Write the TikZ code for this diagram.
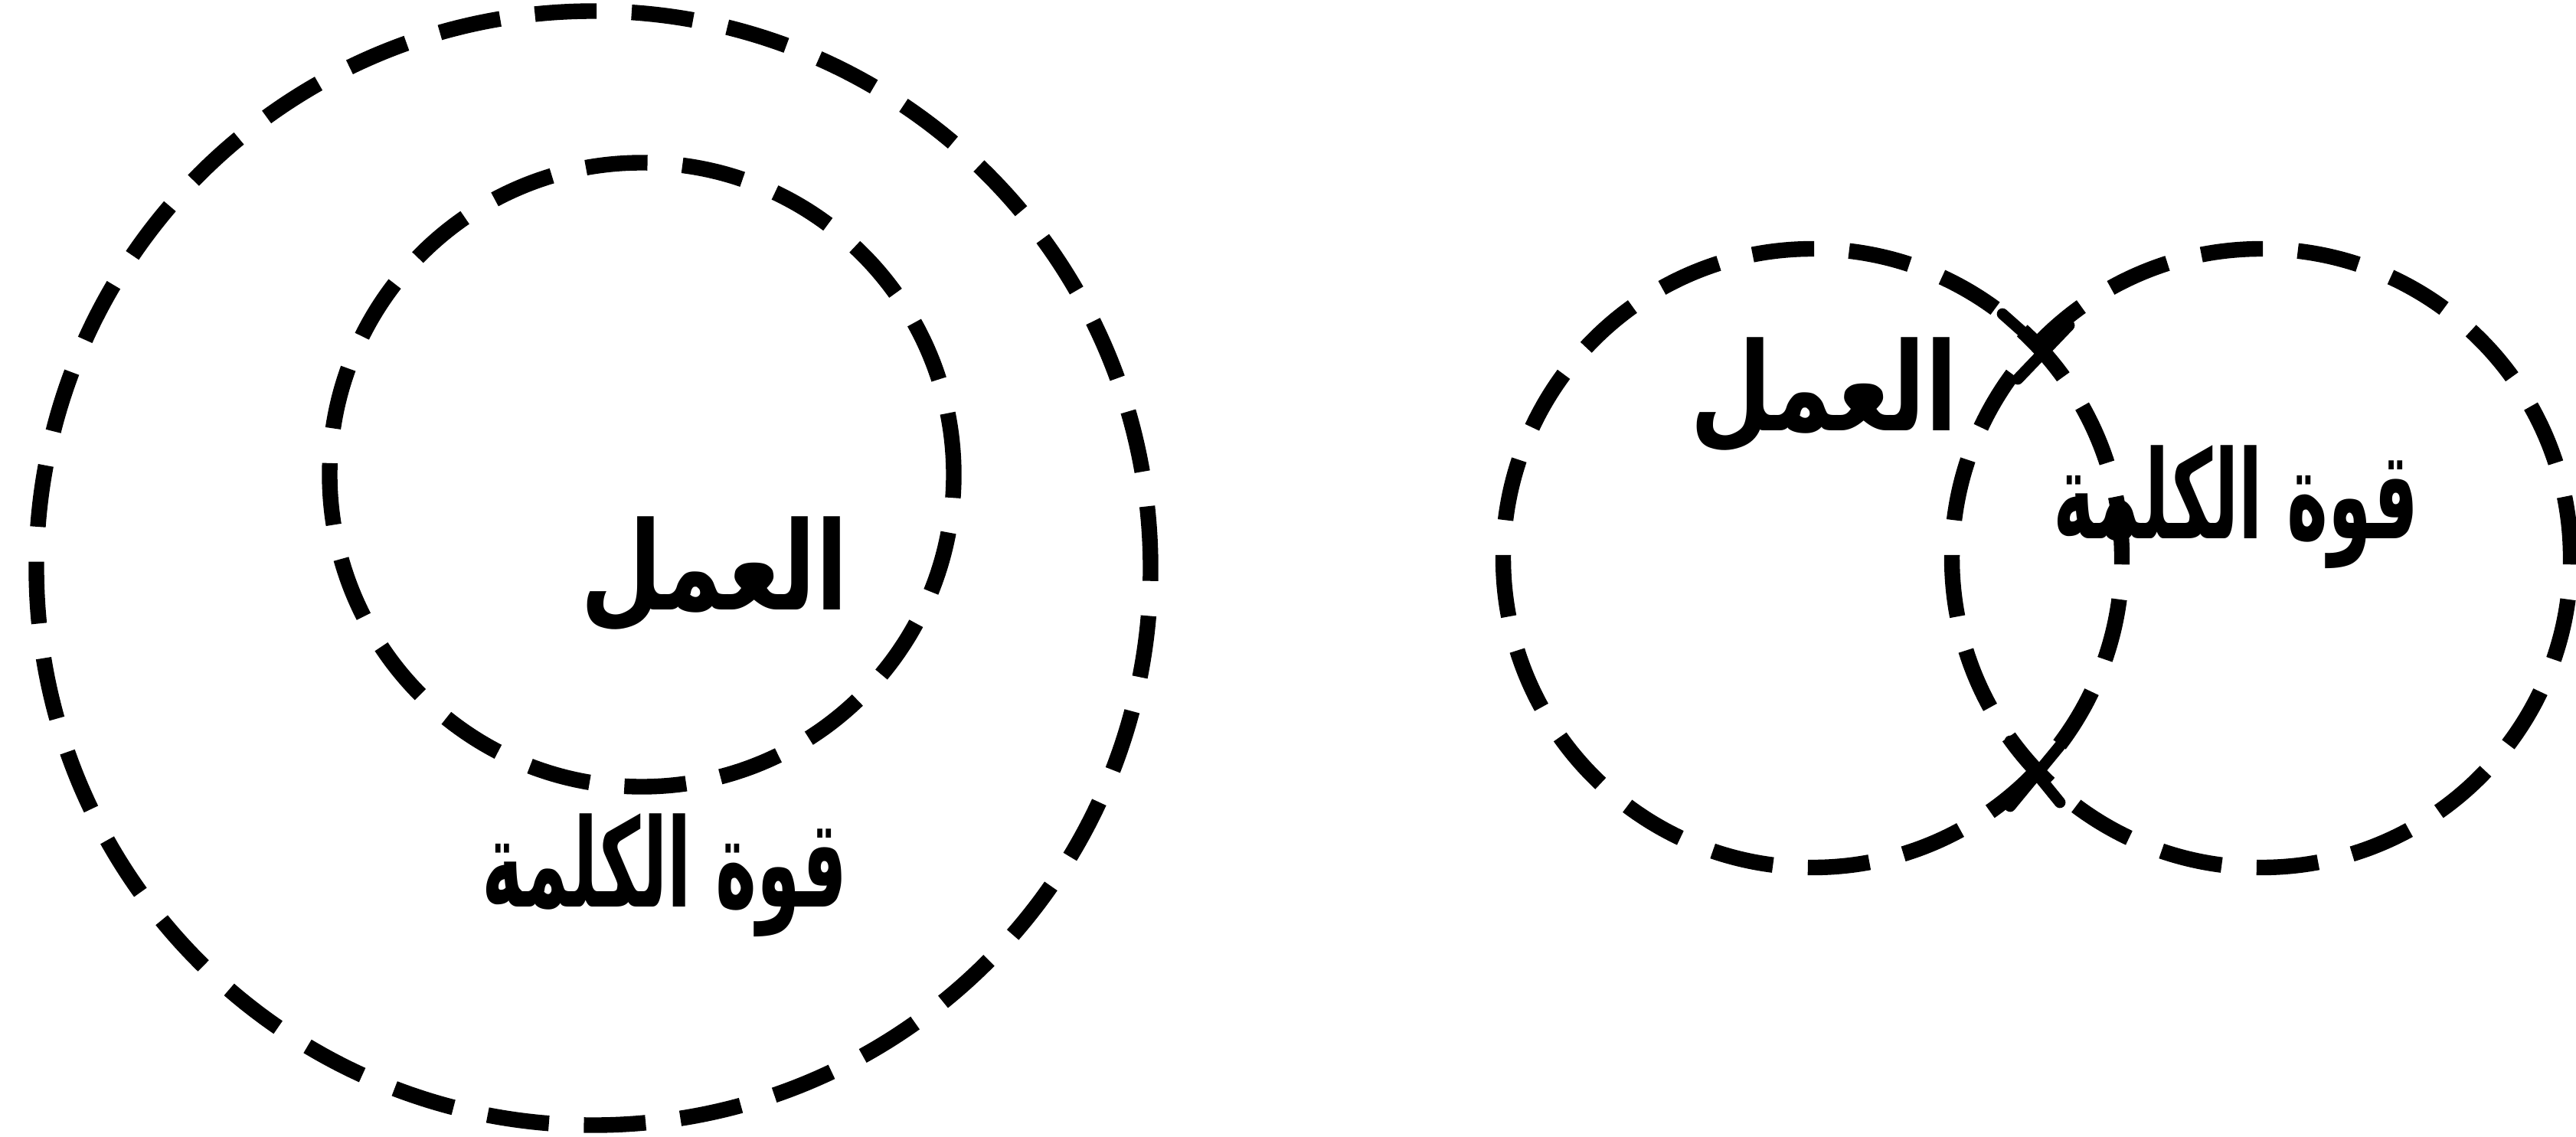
\documentclass[tikz,border=0pt]{standalone}
\usepackage{graphicx}
\usepackage{fontspec}
\newfontfamily\arabicfont[Script=Arabic]{DejaVu Sans}
\TeXXeTstate=1
% Arabic label, squeezed to the width of the drawn one
\newcommand{\artext}[2][1]{\scalebox{#1}[1.2]{\beginR #2\endR}}

\begin{document}
\begin{tikzpicture}[
  ring/.style={circle, draw, line width=5.8pt, dash pattern=on 23pt off 13pt, inner sep=0pt, minimum size=#1},
  lbl/.style={font=\arabicfont\bfseries\fontsize{38}{44}\selectfont, inner sep=0pt},
  crossmark/.style={line width=4.2pt, line cap=round}
]
\useasboundingbox (0,0) rectangle (33.64,-14.84);

% nested circles (left)
\node[ring=14.55cm] (outer) at (7.75,-7.42) {};
\node[ring=8.15cm] (inner) at (8.38,-6.20) {};
\node[lbl] (work) at (9.33,-7.50) {\artext[0.92]{العمل}};
\node[lbl] (power) at (8.68,-11.43) {\artext[0.685]{قوة الكلمة}};

% overlapping circles (right)
\node[ring=8.08cm] (workring) at (23.67,-7.29) {};
\node[ring=8.08cm] (powerring) at (29.53,-7.29) {};
\node[lbl] (worktwo) at (23.82,-5.16) {\artext[0.92]{العمل}};
\node[lbl] (powertwo) at (29.20,-6.62) {\artext[0.685]{قوة الكلمة}};

% crossing marks
\coordinate (meettop) at (26.60,-4.50);
\coordinate (meetbot) at (26.60,-10.08);
\draw[crossmark] (meettop) +(-0.45,0.40) -- +(0,0)
                 (meettop) +(0.42,0.25) -- +(-0.25,-0.45);
\draw[crossmark] (meetbot) +(-0.35,0.40) -- +(0.30,-0.40)
                 (meetbot) +(0.35,0.40) -- +(-0.35,-0.45);
\end{tikzpicture}
\end{document}
